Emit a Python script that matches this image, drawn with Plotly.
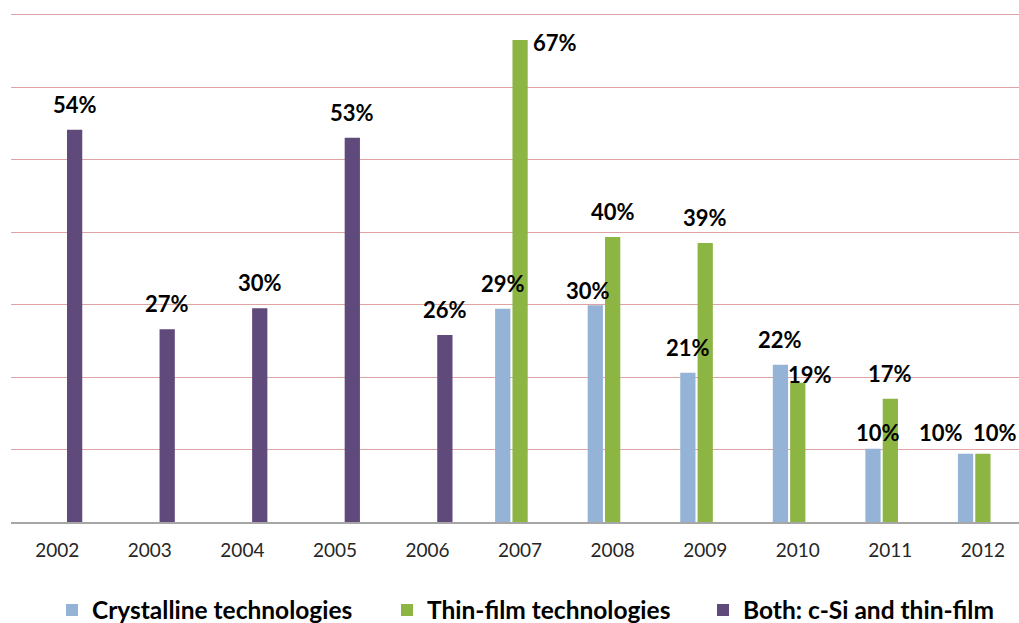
import plotly.graph_objects as go

years = ["2002", "2003", "2004", "2005", "2006", "2007", "2008", "2009", "2010", "2011", "2012"]
crystalline = [None, None, None, None, None, 29.4, 29.9, 20.6, 21.7, 10.1, 9.4]
thin_film = [None, None, None, None, None, 66.5, 39.3, 38.5, 19.2, 17.0, 9.4]
both = [54.1, 26.6, 29.5, 53.0, 25.8, None, None, None, None, None, None]

crystalline_labels = ["", "", "", "", "", "29%", "30%", "21%", "22%", "10%", "10%"]
thin_film_labels = ["", "", "", "", "", "67%", "40%", "39%", "19%", "17%", "10%"]
both_labels = ["54%", "27%", "30%", "53%", "26%", "", "", "", "", "", ""]

series_names = ["Crystalline technologies", "Thin-film technologies", "Both: c-Si and thin-film"]
colors = ["#95B3D7", "#8DB543", "#604A7B"]

# layout constants
W, H = 1019, 623
ML, MR, MT, MB = 11, 0, 0, 101
XMAX = 10.39
YMAX = 72
BARGAP = 0.438
plot_w = W - ML - MR
plot_h = H - MT - MB
slot = (1 - BARGAP) / 3

# manual label nudges (series index, year) -> (dx, dy) in px
nudges = {
    (1, "2007"): (35, -28),
    (0, "2008"): (-7, -11),
    (1, "2010"): (12, -17),
    (0, "2011"): (5, -9),
    (0, "2012"): (-25, -4),
    (1, "2012"): (12, -4),
}

fig = go.Figure()
all_vals = [crystalline, thin_film, both]
all_labels = [crystalline_labels, thin_film_labels, both_labels]
legends = ["legend", "legend2", "legend3"]
for i in range(3):
    fig.add_trace(go.Bar(
        x=years, y=all_vals[i], name=series_names[i],
        marker=dict(color=colors[i], line=dict(width=0)),
        legend=legends[i], hoverinfo="x+y",
    ))

annotations = []
for i in range(3):
    for idx, (yr, v, lab) in enumerate(zip(years, all_vals[i], all_labels[i])):
        if v is None or not lab:
            continue
        dx, dy = nudges.get((i, yr), (0, 0))
        annotations.append(dict(
            x=idx + (i - 1) * slot, y=v, xref="x", yref="y", text=lab, showarrow=False,
            xanchor="center", yanchor="bottom",
            xshift=dx, yshift=10 + dy,
            font=dict(family="Lato", size=22, color="#000000", weight="bold"),
        ))

leg_font = dict(family="Lato", size=24.5, color="#000000", weight="bold")
def legx(px):
    return (px - ML) / plot_w

leg_y = (plot_h + MT - 610) / plot_h
fig.update_layout(
    width=W, height=H,
    margin=dict(l=ML, r=MR, t=MT, b=MB, autoexpand=False),
    paper_bgcolor="white", plot_bgcolor="white",
    barmode="group", bargap=BARGAP, bargroupgap=0.12,
    annotations=annotations,
    xaxis=dict(
        type="category", range=[-0.5, XMAX], showgrid=False,
        showline=True, linecolor="#A6A6A6", linewidth=2,
        ticks="", ticklabelstandoff=10,
        tickfont=dict(family="Lato", size=19, color="#262626"),
        fixedrange=True, automargin=False,
    ),
    yaxis=dict(
        range=[0, YMAX], dtick=10, showgrid=True, gridcolor="#DFA3A3", gridwidth=1,
        showticklabels=False, zeroline=False, showline=False, ticks="",
        fixedrange=True, automargin=False,
    ),
    legend=dict(x=legx(52), y=leg_y, xanchor="left", yanchor="middle",
                orientation="h", font=leg_font, bgcolor="rgba(0,0,0,0)"),
    legend2=dict(x=legx(387), y=leg_y, xanchor="left", yanchor="middle",
                 orientation="h", font=leg_font, bgcolor="rgba(0,0,0,0)"),
    legend3=dict(x=legx(703), y=leg_y, xanchor="left", yanchor="middle",
                 orientation="h", font=leg_font, bgcolor="rgba(0,0,0,0)"),
    showlegend=True,
)

fig.write_html("out.html", config={"displayModeBar": False},
               post_script="document.body.style.margin='0';")
